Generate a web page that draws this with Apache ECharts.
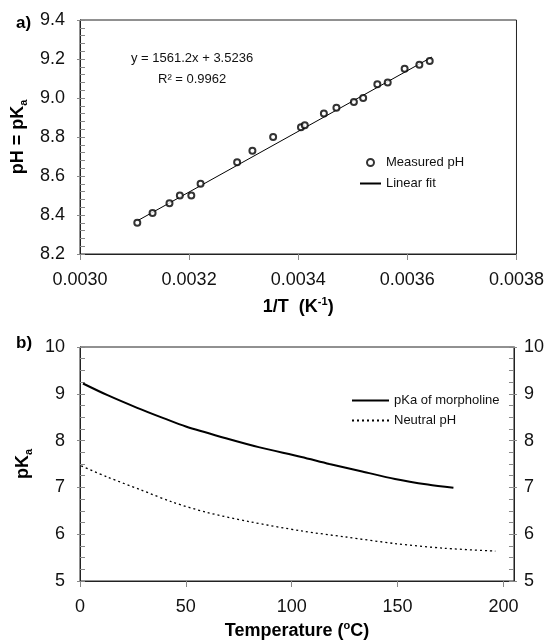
<!DOCTYPE html>
<html lang="en">
<head>
  <meta charset="UTF-8">
  <title>pKa of morpholine</title>
  <script src="https://cdn.jsdelivr.net/npm/echarts@6/dist/echarts.min.js"></script>
  <style>
    html, body { margin: 0; padding: 0; background: #fff; }
    #main { width: 547px; height: 644px; }
  </style>
</head>
<body>
  <div id="main"></div>
  <script>
    // a) measured pH vs 1/T
    var invT = [0.003105, 0.003133, 0.003164, 0.003183, 0.003204, 0.003221, 0.003288, 0.003316,
      0.003354, 0.003405, 0.003412, 0.003447, 0.003470, 0.003502, 0.003519, 0.003545,
      0.003564, 0.003595, 0.003622, 0.003641]
    var measuredPH = [8.36, 8.41, 8.46, 8.50, 8.50, 8.56, 8.67, 8.73, 8.80, 8.85, 8.86, 8.92,
      8.95, 8.98, 9.00, 9.07, 9.08, 9.15, 9.17, 9.19]
    // ends of the fitted line y = 1561.2x + 3.5236
    var fitX = [0.003105, 0.003645]
    var fitY = [8.37, 9.21]

    // b) pKa and neutral pH vs temperature
    var tempPka = [1.4, 13, 27, 39.4, 50, 68.9, 84.4, 104.6, 117.8, 133.3, 148.8, 164.3, 176.4]
    var pkaMorpholine = [9.22, 8.97, 8.70, 8.48, 8.30, 8.05, 7.86, 7.65, 7.50, 7.34, 7.18, 7.06, 6.99]
    var tempNeutral = [0.6, 13, 28.6, 44.1, 59.6, 79.8, 104.6, 125.6, 148.8, 172.1, 196.2]
    var neutralPH = [7.46, 7.22, 6.95, 6.68, 6.47, 6.27, 6.07, 5.94, 5.80, 5.70, 5.64]

    var font = 'Liberation Sans, Arial, sans-serif'
    var labelStyle = { fontSize: 18, color: '#111', fontFamily: font }
    var tickColor = '#888'
    var lineColor = '#222'

    function pair(xs, ys) {
      return xs.map(function (x, i) { return [x, ys[i]] })
    }

    var mCharts = echarts.init(document.getElementById('main'))
    var option = {
      animation: false,
      textStyle: { fontFamily: font },
      title: [
        { text: 'a)', left: 11, top: 10, textStyle: { fontSize: 17, fontWeight: 'bold', color: '#000', fontFamily: font } },
        { text: 'b)', left: 11, top: 330, textStyle: { fontSize: 17, fontWeight: 'bold', color: '#000', fontFamily: font } }
      ],
      grid: [
        { left: 80, top: 20, width: 439, height: 234, show: true, borderColor: lineColor, borderWidth: 1 },
        { left: 80, top: 347, width: 439, height: 234, show: true, borderColor: lineColor, borderWidth: 1 }
      ],
      legend: [
        {
          orient: 'vertical', left: 354, top: 150, itemWidth: 21, itemHeight: 7, itemGap: 6,
          textStyle: { fontSize: 13, color: '#111', fontFamily: font, lineHeight: 15 },
          data: ['Measured pH', { name: 'Linear fit', itemStyle: { opacity: 0 } }]
        },
        {
          orient: 'vertical', left: 346, top: 389, itemWidth: 37, itemHeight: 14, itemGap: 7,
          textStyle: { fontSize: 13, color: '#111', fontFamily: font },
          data: [
            { name: 'pKa of morpholine', itemStyle: { opacity: 0 } },
            { name: 'Neutral pH', itemStyle: { opacity: 0 } }
          ]
        }
      ],
      graphic: [
        { type: 'text', left: 131, top: 52, style: { text: 'y = 1561.2x + 3.5236', fontSize: 13, fill: '#111', fontFamily: font } },
        { type: 'text', left: 158, top: 73, style: { text: 'R\u00b2 = 0.9962', fontSize: 13, fill: '#111', fontFamily: font } }
      ],
      xAxis: [
        {
          type: 'value', gridIndex: 0, min: 0.003, max: 0.0038, interval: 0.0002,
          name: '{n|1/T  (K}{s|-1}{n|)}', nameLocation: 'middle', nameGap: 42,
          nameTextStyle: {
            rich: {
              n: { fontSize: 18, fontWeight: 'bold', color: '#000', fontFamily: font, lineHeight: 22 },
              s: { fontSize: 11, fontWeight: 'bold', color: '#000', fontFamily: font, verticalAlign: 'top', lineHeight: 22 }
            }
          },
          axisLine: { lineStyle: { color: lineColor } },
          axisTick: { inside: false, length: 6, lineStyle: { color: tickColor } },
          axisLabel: Object.assign({ margin: 17, formatter: function (v) { return v.toFixed(4) } }, labelStyle),
          splitLine: { show: false }
        },
        {
          type: 'value', gridIndex: 1, min: 0, max: 205, interval: 50,
          name: '{n|Temperature (}{s|o}{n|C)}', nameLocation: 'middle', nameGap: 39,
          nameTextStyle: {
            rich: {
              n: { fontSize: 18, fontWeight: 'bold', color: '#000', fontFamily: font, lineHeight: 22 },
              s: { fontSize: 11, fontWeight: 'bold', color: '#000', fontFamily: font, verticalAlign: 'top', lineHeight: 22 }
            }
          },
          axisLine: { lineStyle: { color: lineColor } },
          axisTick: { inside: false, length: 6, lineStyle: { color: tickColor } },
          axisLabel: Object.assign({ margin: 17, showMaxLabel: false }, labelStyle),
          splitLine: { show: false }
        }
      ],
      yAxis: [
        {
          type: 'value', gridIndex: 0, min: 8.2, max: 9.4, interval: 0.2,
          name: '{n|pH = pK}{b|a}', nameLocation: 'middle', nameGap: 42,
          nameTextStyle: {
            rich: {
              n: { fontSize: 18, fontWeight: 'bold', color: '#000', fontFamily: font, lineHeight: 22 },
              b: { fontSize: 11, fontWeight: 'bold', color: '#000', fontFamily: font, verticalAlign: 'bottom', lineHeight: 22 }
            }
          },
          axisLine: { lineStyle: { color: lineColor } },
          axisTick: { inside: true, length: 5, lineStyle: { color: tickColor } },
          minorTick: { show: true, splitNumber: 5, length: 5, lineStyle: { color: tickColor } },
          axisLabel: Object.assign({ margin: 15, formatter: function (v) { return v.toFixed(1) } }, labelStyle),
          splitLine: { show: false }
        },
        {
          // outer half of the crossing major ticks
          type: 'value', gridIndex: 0, min: 8.2, max: 9.4, interval: 0.2, position: 'left',
          axisLine: { show: false }, axisLabel: { show: false }, splitLine: { show: false },
          axisTick: { inside: false, length: 3, lineStyle: { color: tickColor } }
        },
        {
          type: 'value', gridIndex: 1, min: 5, max: 10, interval: 1,
          name: '{n|pK}{b|a}', nameLocation: 'middle', nameGap: 42,
          nameTextStyle: {
            rich: {
              n: { fontSize: 18, fontWeight: 'bold', color: '#000', fontFamily: font, lineHeight: 22 },
              b: { fontSize: 11, fontWeight: 'bold', color: '#000', fontFamily: font, verticalAlign: 'bottom', lineHeight: 22 }
            }
          },
          axisLine: { lineStyle: { color: lineColor } },
          axisTick: { inside: true, length: 5, lineStyle: { color: tickColor } },
          minorTick: { show: true, splitNumber: 4, length: 5, lineStyle: { color: tickColor } },
          axisLabel: Object.assign({ margin: 15 }, labelStyle),
          splitLine: { show: false }
        },
        {
          type: 'value', gridIndex: 1, min: 5, max: 10, interval: 1, position: 'left',
          axisLine: { show: false }, axisLabel: { show: false }, splitLine: { show: false },
          axisTick: { inside: false, length: 3, lineStyle: { color: tickColor } }
        },
        {
          type: 'value', gridIndex: 1, min: 5, max: 10, interval: 1, position: 'right',
          axisLine: { show: true, lineStyle: { color: lineColor } },
          axisTick: { inside: true, length: 5, lineStyle: { color: tickColor } },
          minorTick: { show: true, splitNumber: 4, length: 5, lineStyle: { color: tickColor } },
          axisLabel: Object.assign({ margin: 10 }, labelStyle),
          splitLine: { show: false }
        },
        {
          type: 'value', gridIndex: 1, min: 5, max: 10, interval: 1, position: 'right',
          axisLine: { show: false }, axisLabel: { show: false }, splitLine: { show: false },
          axisTick: { inside: false, length: 3, lineStyle: { color: tickColor } }
        }
      ],
      series: [
        {
          name: 'Measured pH', type: 'scatter', xAxisIndex: 0, yAxisIndex: 0,
          symbol: 'emptyCircle', symbolSize: 6,
          itemStyle: { color: '#000', borderWidth: 0.9 },
          data: pair(invT, measuredPH), z: 3
        },
        {
          name: 'Linear fit', type: 'line', xAxisIndex: 0, yAxisIndex: 0,
          symbol: 'none', lineStyle: { color: '#000', width: 1 }, itemStyle: { color: '#000' },
          data: pair(fitX, fitY)
        },
        {
          name: 'pKa of morpholine', type: 'line', xAxisIndex: 1, yAxisIndex: 2,
          symbol: 'none', smooth: 0.3, lineStyle: { color: '#000', width: 2 }, itemStyle: { color: '#000' },
          data: pair(tempPka, pkaMorpholine)
        },
        {
          name: 'Neutral pH', type: 'line', xAxisIndex: 1, yAxisIndex: 2,
          symbol: 'none', smooth: 0.3, lineStyle: { color: '#000', width: 1.3, type: [2, 3] }, itemStyle: { color: '#000' },
          data: pair(tempNeutral, neutralPH)
        }
      ]
    }
    mCharts.setOption(option)
  </script>
</body>
</html>
